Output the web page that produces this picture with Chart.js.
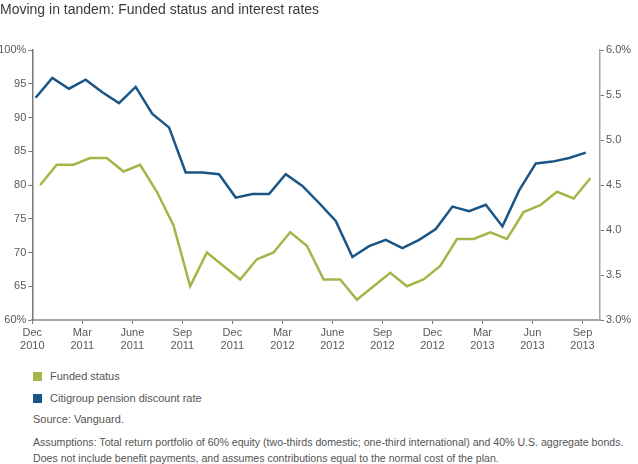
<!DOCTYPE html>
<html>
<head>
<meta charset="utf-8">
<script src="https://cdn.jsdelivr.net/npm/chart.js@4.4.1/dist/chart.umd.min.js"></script>
<style>
  body { margin: 0; background: #fff; font-family: "Liberation Sans", Arial, sans-serif; }
  #wrap { position: relative; width: 638px; height: 464px; }
  #chartBox { position: absolute; left: 0; top: 0; width: 638px; height: 360px; }
  .legend-item { position: absolute; left: 33px; font-size: 11px; color: #555; line-height: 13px; }
  .legend-item span.sw { position: absolute; left: 0; top: 2px; width: 9px; height: 9px; }
  .legend-item span.tx { position: absolute; left: 17px; top: 0; white-space: nowrap; }
  .note { position: absolute; left: 33px; font-size: 11px; color: #555; line-height: 15px; white-space: nowrap; }
  .note.small { font-size: 10.6px; line-height: 16px; }
</style>
</head>
<body>
<div id="wrap">
  <div id="chartBox"><canvas id="myChart" width="638" height="360"></canvas></div>
  <div id="legend"></div>
  <div class="note" style="top:412px;">Source: Vanguard.</div>
  <div class="note small" style="top:434px;">Assumptions: Total return portfolio of 60% equity (two-thirds domestic; one-third international) and 40% U.S. aggregate bonds.<br>Does not include benefit payments, and assumes contributions equal to the normal cost of the plan.</div>
</div>
<script>
// quarter ticks on the x axis (month index from Dec 2010)
let tickMonths = [0, 3, 6, 9, 12, 15, 18, 21, 24, 27, 30, 33];
let tickLabels = [
    ["Dec", "2010"], ["Mar", "2011"], ["June", "2011"], ["Sep", "2011"],
    ["Dec", "2011"], ["Mar", "2012"], ["June", "2012"], ["Sep", "2012"],
    ["Dec", "2012"], ["Mar", "2013"], ["Jun", "2013"], ["Sep", "2013"]
];

// funded status, % (monthly)
let funded = [80, 83, 83, 84, 84, 82, 83, 79, 74, 65, 70, 68, 66, 69, 70, 73, 71,
    66, 66, 63, 65, 67, 65, 66, 68, 72, 72, 73, 72, 76, 77, 79, 78, 81];

// Citigroup pension discount rate, % (monthly)
let discountRate = [5.47, 5.69, 5.57, 5.67, 5.53, 5.41, 5.59, 5.29, 5.14, 4.64, 4.64, 4.62,
    4.36, 4.40, 4.40, 4.62, 4.49, 4.30, 4.10, 3.70, 3.82, 3.89, 3.80, 3.89,
    4.01, 4.26, 4.21, 4.28, 4.04, 4.44, 4.74, 4.76, 4.80, 4.86];

let fundedLag = 0.47;
let rateLag = 0.2;

let green = "#a6b449";
let blue = "#1a5585";
let textColor = "#595959";
let fontFamily = "'Liberation Sans', Arial, sans-serif";

let config = {
    type: "line",
    data: {
        datasets: [
            {
                label: "Funded status",
                data: funded.map((v, i) => ({ x: i + fundedLag, y: v })),
                borderColor: green,
                backgroundColor: green,
                borderWidth: 2.5,
                pointRadius: 0,
                tension: 0,
                yAxisID: "y"
            },
            {
                label: "Citigroup pension discount rate",
                data: discountRate.map((v, i) => ({ x: i + rateLag, y: v })),
                borderColor: blue,
                backgroundColor: blue,
                borderWidth: 2.5,
                pointRadius: 0,
                tension: 0,
                yAxisID: "y1"
            }
        ]
    },
    options: {
        responsive: false,
        animation: false,
        layout: { padding: 0 },
        plugins: {
            legend: { display: false },
            tooltip: { enabled: false },
            title: {
                display: true,
                text: "Moving in tandem: Funded status and interest rates",
                align: "start",
                color: "#3a3a3a",
                font: { family: fontFamily, size: 14, weight: "normal" },
                padding: { top: 2, bottom: 31.2 }
            }
        },
        scales: {
            x: {
                type: "linear",
                min: 0,
                max: 34.05,
                afterBuildTicks: function (scale) {
                    scale.ticks = tickMonths.map(m => ({ value: m }));
                },
                afterFit: function (scale) { scale.height = 40; },
                ticks: {
                    autoSkip: false,
                    maxRotation: 0,
                    padding: 2,
                    color: textColor,
                    font: { family: fontFamily, size: 11 },
                    callback: function (value) {
                        let k = tickMonths.indexOf(value);
                        return k >= 0 ? tickLabels[k] : "";
                    }
                },
                grid: { drawOnChartArea: false, tickLength: 4, color: "#777" },
                border: { color: "#a6a6a6", width: 2 }
            },
            y: {
                position: "left",
                min: 60,
                max: 100,
                afterFit: function (scale) { scale.width = 32.3; },
                ticks: {
                    stepSize: 5,
                    padding: 2,
                    color: textColor,
                    font: { family: fontFamily, size: 11 },
                    callback: v => (v === 100 || v === 60) ? v + "%" : v
                },
                grid: { drawOnChartArea: false, tickLength: 4, color: "#777" },
                border: { color: "#777", width: 1.5 }
            },
            y1: {
                position: "right",
                min: 3,
                max: 6,
                afterFit: function (scale) { scale.width = 38; },
                ticks: {
                    stepSize: 0.5,
                    padding: 2,
                    color: textColor,
                    font: { family: fontFamily, size: 11 },
                    callback: v => (v === 6 || v === 3) ? v.toFixed(1) + "%" : v.toFixed(1)
                },
                grid: { drawOnChartArea: false, tickLength: 4, color: "#777" },
                border: { color: "#a6a6a6", width: 1.5 }
            }
        }
    }
};

let ctx = document.getElementById("myChart").getContext("2d");
let myChart = new Chart(ctx, config);

// html legend built from the datasets
let legendTops = [370, 392];
let legend = document.getElementById("legend");
myChart.data.datasets.forEach(function (ds, i) {
    let item = document.createElement("div");
    item.className = "legend-item";
    item.style.top = legendTops[i] + "px";
    item.innerHTML = '<span class="sw" style="background:' + ds.borderColor + '"></span><span class="tx">' + ds.label + '</span>';
    legend.appendChild(item);
});
</script>
</body>
</html>
